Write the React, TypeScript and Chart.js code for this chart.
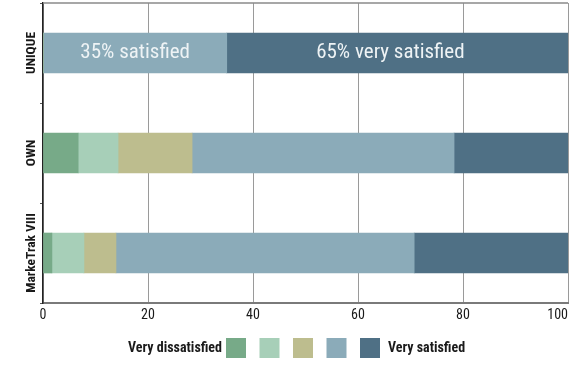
import React, { useEffect, useRef } from "react";
import { Chart, registerables } from "chart.js";

Chart.register(...registerables);

const categories = ["UNIQUE", "OWN", "MarkeTrak VIII"];
const seriesNames = ["Very dissatisfied", "Dissatisfied", "Neutral", "Satisfied", "Very satisfied"];
const veryDissatisfied = [0, 6.7, 1.7];
const dissatisfied = [0, 7.6, 6.1];
const neutral = [0, 14.1, 6.1];
const satisfied = [35, 49.9, 56.8];
const verySatisfied = [65, 21.7, 29.3];
const satisfiedLabels = ["35% satisfied", "", ""];
const verySatisfiedLabels = ["65% very satisfied", "", ""];
const xTicks = [0, 20, 40, 60, 80, 100];
const legendLeftText = "Very dissatisfied";
const legendRightText = "Very satisfied";

const COLORS = ["#77aa88", "#a7cfb8", "#bdbd8e", "#8babb9", "#4f7085"];
const FAMILY = "Roboto, 'DejaVu Sans', sans-serif";

const topBorderPlugin = {
  id: "topBorder",
  beforeDatasetsDraw(chart: any) {
    const { ctx, chartArea } = chart;
    ctx.save();
    ctx.strokeStyle = "#8a8a8a";
    ctx.lineWidth = 1.5;
    ctx.beginPath();
    ctx.moveTo(chartArea.left, chartArea.top);
    ctx.lineTo(chartArea.right, chartArea.top);
    ctx.stroke();
    ctx.restore();
  },
};

const barTextPlugin = {
  id: "barText",
  afterDatasetsDraw(chart: any) {
    const ctx = chart.ctx;
    ctx.save();
    ctx.font = `condensed 21px ${FAMILY}`;
    ctx.fillStyle = "#eef3f5";
    ctx.textAlign = "center";
    ctx.textBaseline = "middle";
    chart.data.datasets.forEach((ds: any, di: number) => {
      const labels: string[] | undefined = ds.barLabels;
      if (!labels) return;
      const meta = chart.getDatasetMeta(di);
      meta.data.forEach((bar: any, i: number) => {
        const t = labels[i];
        if (!t) return;
        const cx = (bar.x + bar.base) / 2 - (di === 4 ? 7 : 0);
        ctx.fillText(t, cx, bar.y);
      });
    });
    ctx.restore();
  },
};

const yLabelPlugin = {
  id: "yLabels",
  afterDraw(chart: any) {
    const ctx = chart.ctx;
    const y = chart.scales.y;
    ctx.save();
    ctx.font = `condensed bold 13.5px ${FAMILY}`;
    ctx.fillStyle = "#1a1a1a";
    ctx.textAlign = "center";
    ctx.textBaseline = "middle";
    (chart.data.labels as string[]).forEach((lab: string, i: number) => {
      const py = y.getPixelForValue(i);
      ctx.save();
      ctx.translate(y.left + 32, py);
      ctx.rotate(-Math.PI / 2);
      ctx.fillText(lab, 0, 0);
      ctx.restore();
    });
    ctx.restore();
  },
};

const lastTickPlugin = {
  id: "lastTick",
  beforeDraw(chart: any) {
    const items = chart.scales.x.getLabelItems();
    if (items && items.length) {
      items[items.length - 1].options.textAlign = "right";
    }
  },
};

const legendPlugin = {
  id: "customLegend",
  afterDraw(chart: any) {
    const ctx = chart.ctx;
    const box = 20;
    const step = 33.5;
    const cy = 348;
    const startX = 226;
    ctx.save();
    ctx.font = `condensed bold 14px ${FAMILY}`;
    ctx.fillStyle = "#1a1a1a";
    ctx.textBaseline = "middle";
    ctx.textAlign = "right";
    ctx.fillText(legendLeftText, startX - 4, cy);
    let x = startX;
    chart.data.datasets.forEach((ds: any) => {
      ctx.fillStyle = ds.backgroundColor;
      ctx.fillRect(x, cy - box / 2, box, box);
      x += step;
    });
    x = x - step + box + 8;
    ctx.fillStyle = "#1a1a1a";
    ctx.textAlign = "left";
    ctx.fillText(legendRightText, x, cy);
    ctx.restore();
  },
};

export default function App() {
  const ref = useRef<HTMLCanvasElement>(null);
  useEffect(() => {
    if (!ref.current) return;
    Chart.defaults.font.family = FAMILY;
    const values = [veryDissatisfied, dissatisfied, neutral, satisfied, verySatisfied];
    const chart = new Chart(ref.current, {
      type: "bar",
      data: {
        labels: categories,
        datasets: seriesNames.map((name, i) => ({
          label: name,
          data: values[i],
          backgroundColor: COLORS[i],
          borderWidth: 0,
          barThickness: 40,
          barLabels: i === 3 ? satisfiedLabels : i === 4 ? verySatisfiedLabels : undefined,
        })) as any,
      },
      options: {
        indexAxis: "y",
        responsive: false,
        animation: false,
        layout: { padding: { top: 3, right: 12, left: 0, bottom: 0 } },
        plugins: { legend: { display: false }, tooltip: { enabled: false } },
        scales: {
          x: {
            stacked: true,
            min: 0,
            max: 100,
            afterBuildTicks: (scale: any) => {
              scale.ticks = xTicks.map((v) => ({ value: v }));
            },
            afterFit: (scale: any) => {
              scale.height = 73;
              scale.paddingRight = 0;
              scale.paddingLeft = 0;
            },
            ticks: { color: "#1a1a1a", font: { size: 14, weight: "condensed" as any }, padding: 4 },
            grid: { color: "#9a9a9a", lineWidth: 1, drawTicks: false },
            border: { color: "#7a7a7a", width: 2 },
          },
          y: {
            stacked: true,
            afterFit: (scale: any) => {
              scale.width = 43;
            },
            ticks: { display: false },
            grid: { offset: true, drawOnChartArea: false, drawTicks: true, tickLength: 3, color: "#555" },
            border: { color: "#222", width: 1.5 },
          },
        },
      },
      plugins: [lastTickPlugin, topBorderPlugin, barTextPlugin, yLabelPlugin, legendPlugin],
    });
    return () => chart.destroy();
  }, []);
  return (
    <div style={{ position: "fixed", left: 0, top: 0, width: 580, height: 376, background: "#fff" }}>
      <canvas ref={ref} width={580} height={376} />
    </div>
  );
}
